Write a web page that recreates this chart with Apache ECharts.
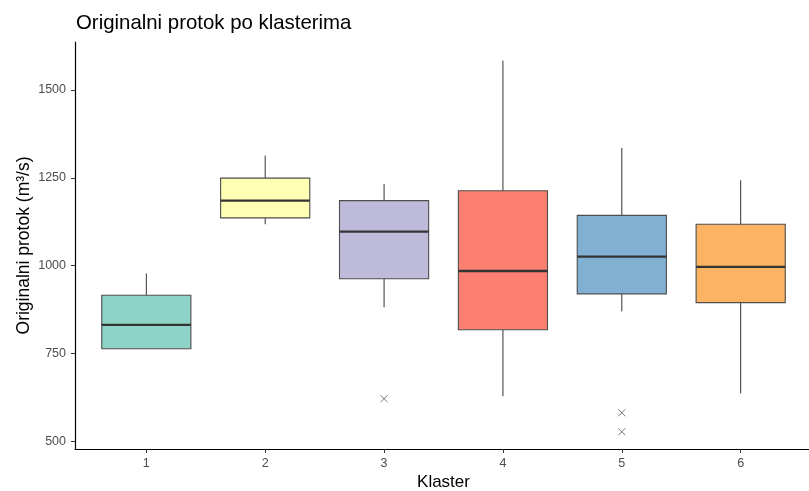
<!DOCTYPE html>
<html>
<head>
<meta charset="utf-8">
<script src="https://cdn.jsdelivr.net/npm/echarts@6/dist/echarts.min.js"></script>
<style>html,body{margin:0;padding:0;background:#fff}#c{width:809px;height:491px}</style>
</head>
<body>
<div id="c"></div>
<script>
const categories = [1, 2, 3, 4, 5, 6];
const lowerWhisker = [764, 1118, 882, 629, 870, 637];
const q1Values     = [764, 1136, 963, 818, 920, 895];
const medians      = [832, 1185, 1097, 985, 1026, 997];
const q3Values     = [916, 1249, 1185, 1213, 1143, 1118];
const upperWhisker = [978, 1313, 1232, 1583, 1335, 1243];
const outliers = [[3, 622], [5, 582], [5, 528]];
const boxColors = ['#8DD3C7', '#FFFFB3', '#BEBADA', '#FB8072', '#80B1D3', '#FDB462'];
const yTicks = [500, 750, 1000, 1250, 1500];

const boxData = categories.map((c, i) => [c, lowerWhisker[i], q1Values[i], medians[i], q3Values[i], upperWhisker[i]]);

function renderBox(params, api) {
  const x = api.value(0);
  const lo = api.coord([x, api.value(1)]);
  const q1 = api.coord([x, api.value(2)]);
  const md = api.coord([x, api.value(3)]);
  const q3 = api.coord([x, api.value(4)]);
  const hi = api.coord([x, api.value(5)]);
  const w = api.size([0.75, 0])[0];
  const cx = q1[0];
  const stroke = '#333333';
  return {
    type: 'group',
    children: [
      { type: 'line', shape: { x1: cx, y1: hi[1], x2: cx, y2: q3[1] }, style: { stroke: stroke, lineWidth: 1 } },
      { type: 'line', shape: { x1: cx, y1: q1[1], x2: cx, y2: lo[1] }, style: { stroke: stroke, lineWidth: 1 } },
      { type: 'rect', shape: { x: cx - w / 2, y: q3[1], width: w, height: q1[1] - q3[1] },
        style: { fill: boxColors[params.dataIndex], stroke: '#4d4d4d', lineWidth: 1.1 } },
      { type: 'line', shape: { x1: cx - w / 2, y1: md[1], x2: cx + w / 2, y2: md[1] }, style: { stroke: stroke, lineWidth: 2.3 } }
    ]
  };
}

const chart = echarts.init(document.getElementById('c'), null, { renderer: 'canvas' });
chart.setOption({
  animation: false,
  backgroundColor: '#ffffff',
  title: {
    text: 'Originalni protok po klasterima',
    left: 71, top: 8,
    textStyle: { fontFamily: 'Liberation Sans', fontSize: 20.4, fontWeight: 'normal', color: '#000' }
  },
  grid: { left: 75, right: -3, top: 42, bottom: 42, outerBoundsMode: 'none', containLabel: false },
  xAxis: {
    type: 'value', min: 0.4, max: 6.6,
    name: 'Klaster', nameLocation: 'middle', nameGap: 25, nameMoveOverlap: false,
    nameTextStyle: { fontFamily: 'Liberation Sans', fontSize: 17, color: '#000', verticalAlign: 'top' },
    axisLine: { show: true, onZero: false, lineStyle: { color: '#000', width: 1.2 } },
    axisTick: { show: true, customValues: categories, length: 4, lineStyle: { color: '#333', width: 1 } },
    axisLabel: { customValues: categories, margin: 8, color: '#4d4d4d', fontFamily: 'Liberation Sans', fontSize: 12.5,
      formatter: v => String(v) },
    splitLine: { show: false }
  },
  yAxis: {
    type: 'value', min: 479, max: 1636,
    name: 'Originalni protok (m³/s)', nameLocation: 'middle', nameGap: 42, nameMoveOverlap: false,
    nameTextStyle: { fontFamily: 'Liberation Sans', fontSize: 17.5, color: '#000' },
    axisLine: { show: true, onZero: false, lineStyle: { color: '#000', width: 1.2 } },
    axisTick: { show: true, customValues: yTicks, length: 4, lineStyle: { color: '#333', width: 1 } },
    axisLabel: { customValues: yTicks, margin: 9, color: '#4d4d4d', fontFamily: 'Liberation Sans', fontSize: 12.5,
      formatter: v => String(v) },
    splitLine: { show: false }
  },
  series: [
    {
      type: 'custom',
      renderItem: renderBox,
      encode: { x: 0, y: [1, 2, 3, 4, 5] },
      data: boxData,
      clip: false
    },
    {
      type: 'scatter',
      data: outliers,
      symbol: 'path://M0,0L10,10M10,0L0,10',
      symbolSize: 7,
      itemStyle: { color: 'none', borderColor: '#555', borderWidth: 1 },
      z: 3
    }
  ]
});
</script>
</body>
</html>
